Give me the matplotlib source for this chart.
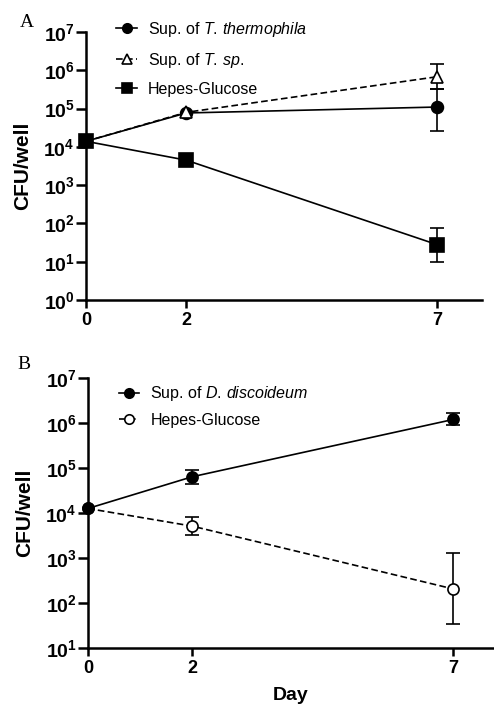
import math
import matplotlib
matplotlib.use("Agg")
import matplotlib.pyplot as plt
import matplotlib.ticker as ticker

plt.rcParams['font.family'] = ['Liberation Sans', 'DejaVu Sans']
plt.rcParams['mathtext.fontset'] = 'custom'
plt.rcParams['mathtext.rm'] = 'Liberation Sans'
plt.rcParams['mathtext.it'] = 'Liberation Sans:italic'
plt.rcParams['mathtext.bf'] = 'Liberation Sans:bold'

days = [0, 2, 7]
xticks = [0, 2, 7]

# panel A
a_thermo = [1.4e4, 7.7e4, 1.1e5]
a_thermo_lo = [1.4e4, 7.7e4, 2.6e4]
a_thermo_hi = [1.4e4, 7.7e4, 3.2e5]
a_tsp = [1.4e4, 8.0e4, 6.8e5]
a_tsp_lo = [1.4e4, 8.0e4, 3.2e5]
a_tsp_hi = [1.4e4, 8.0e4, 1.5e6]
a_hepes = [1.4e4, 4.5e3, 28]
a_hepes_lo = [1.4e4, 4.5e3, 10]
a_hepes_hi = [1.4e4, 4.5e3, 76]

# panel B
b_disc = [1.26e4, 6.4e4, 1.2e6]
b_disc_lo = [1.26e4, 4.5e4, 8.9e5]
b_disc_hi = [1.26e4, 8.9e4, 1.68e6]
b_hepes = [1.26e4, 5.1e3, 205]
b_hepes_lo = [1.26e4, 3.2e3, 34]
b_hepes_hi = [1.26e4, 8.3e3, 1270]

LW = 1.2
SPW = 1.8


def draw_series(ax, y, lo, hi, marker, ls, mfc, ms, label, z=3):
    ax.plot(days, y, color='black', lw=LW, ls=ls, marker=marker, ms=ms,
            mfc=mfc, mec='black', mew=1.2, label=label, zorder=z,
            clip_on=False, dashes=(4, 2) if ls == '--' else (None, None))
    for x, v, l, h in zip(days, y, lo, hi):
        if l == h:
            continue
        ax.errorbar([x], [v], yerr=[[v - l], [h - v]], fmt='none',
                    ecolor='black', elinewidth=LW, capsize=5, capthick=LW,
                    zorder=2)


def style_axes(ax, ymin, ymax, xmax):
    ax.set_yscale('log')
    ax.set_ylim(10 ** ymin, 10 ** ymax)
    ax.set_xlim(0, xmax)
    ax.set_yticks([10 ** k for k in range(ymin, ymax + 1)])
    ax.yaxis.set_major_formatter(ticker.FuncFormatter(
        lambda v, _: r'$\mathbf{10^{%d}}$' % round(math.log10(v))))
    ax.yaxis.set_minor_locator(ticker.NullLocator())
    ax.set_xticks(xticks)
    ax.set_xticklabels([str(t) for t in xticks], fontweight='bold')
    for side in ['top', 'right']:
        ax.spines[side].set_visible(False)
    for side in ['left', 'bottom']:
        ax.spines[side].set_linewidth(SPW)
    ax.tick_params(axis='y', width=SPW, length=7, labelsize=14, pad=1)
    ax.tick_params(axis='x', width=SPW, length=6, labelsize=13, pad=3)
    ax.set_ylabel('CFU/well', fontsize=15, fontweight='bold', labelpad=8)


fig = plt.figure(figsize=(4.94, 7.05), dpi=100)

axA = fig.add_axes([0.174, 0.5745, 0.802, 0.380])
draw_series(axA, a_thermo, a_thermo_lo, a_thermo_hi, 'o', '-', 'black', 8.5,
            r'Sup. of $\mathit{T.\,thermophila}$')
draw_series(axA, a_tsp, a_tsp_lo, a_tsp_hi, '^', '--', 'white', 9,
            r'Sup. of $\mathit{T.\,sp.}$')
draw_series(axA, a_hepes, a_hepes_lo, a_hepes_hi, 's', '-', 'black', 9.5,
            'Hepes-Glucose')
style_axes(axA, 0, 7, 7.9)
axA.legend(loc='upper left', bbox_to_anchor=(0.04, 1.1), frameon=False,
           fontsize=11.5, handlelength=1.3, handletextpad=0.7,
           labelspacing=0.75, markerscale=0.8)
fig.text(0.04, 0.962, 'A', fontsize=14, family='Liberation Serif')

axB = fig.add_axes([0.178, 0.0809, 0.822, 0.3829])
draw_series(axB, b_disc, b_disc_lo, b_disc_hi, 'o', '-', 'black', 8,
            r'Sup. of $\mathit{D.\,discoideum}$', z=4)
draw_series(axB, b_hepes, b_hepes_lo, b_hepes_hi, 'o', '--', 'white', 8,
            'Hepes-Glucose')
style_axes(axB, 1, 7, 7.78)
axB.set_xlabel('Day', fontsize=14, fontweight='bold', labelpad=7)
axB.legend(loc='upper left', bbox_to_anchor=(0.04, 1.03), frameon=False,
           fontsize=11.5, handlelength=1.3, handletextpad=0.7,
           labelspacing=0.6, markerscale=0.85)
fig.text(0.035, 0.477, 'B', fontsize=14, family='Liberation Serif')

fig.savefig('out.png', dpi=100)
